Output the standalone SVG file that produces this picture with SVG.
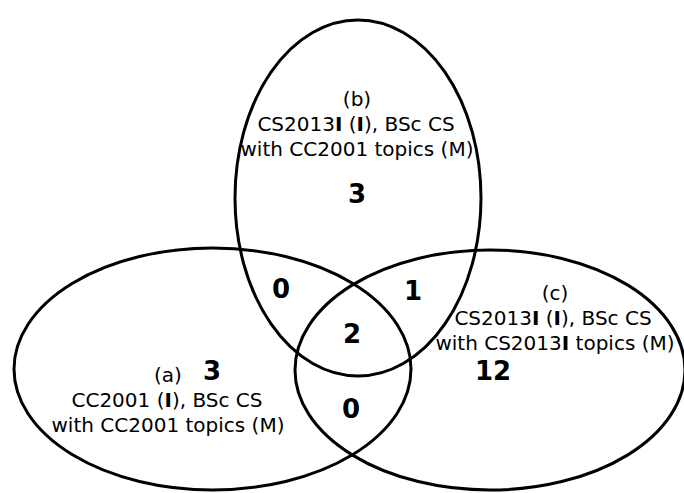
<svg xmlns="http://www.w3.org/2000/svg" width="684" height="493" viewBox="0 0 684 493">
<style>
.set{fill:none;stroke:#000;stroke-width:3}
.lbl{font-family:"DejaVu Sans",sans-serif;font-size:20px;fill:#000;text-anchor:middle}
.num{font-family:"DejaVu Sans",sans-serif;font-size:26px;font-weight:bold;fill:#000;text-anchor:middle}
.b{font-weight:bold}
</style>
<rect width="684" height="493" fill="#fff"/>
<g id="set-b"><ellipse class="set" cx="358" cy="198" rx="123" ry="178"/></g>
<g id="set-a"><ellipse class="set" cx="212.5" cy="369" rx="198.5" ry="121"/></g>
<g id="set-c"><ellipse class="set" cx="490" cy="370" rx="195" ry="120"/></g>
<g id="label-b">
<text class="lbl" x="357" y="106">(b)</text>
<text class="lbl" x="356" y="131">CS2013<tspan class="b">I</tspan> (<tspan class="b">I</tspan>), BSc CS</text>
<text class="lbl" x="357" y="156">with CC2001 topics (M)</text>
</g>
<g id="label-a">
<text class="lbl" x="168" y="382">(a)</text>
<text class="lbl" x="167" y="407">CC2001 (<tspan class="b">I</tspan>), BSc CS</text>
<text class="lbl" x="168" y="432">with CC2001 topics (M)</text>
</g>
<g id="label-c">
<text class="lbl" x="555" y="300">(c)</text>
<text class="lbl" x="553" y="325">CS2013<tspan class="b">I</tspan> (<tspan class="b">I</tspan>), BSc CS</text>
<text class="lbl" x="555" y="350">with CS2013<tspan class="b">I</tspan> topics (M)</text>
</g>
<g id="counts">
<text class="num" x="357" y="203">3</text>
<text class="num" x="281" y="298">0</text>
<text class="num" x="413" y="300">1</text>
<text class="num" x="352" y="343">2</text>
<text class="num" x="212" y="380">3</text>
<text class="num" x="351" y="418">0</text>
<text class="num" x="493" y="380">12</text>
</g>
</svg>
